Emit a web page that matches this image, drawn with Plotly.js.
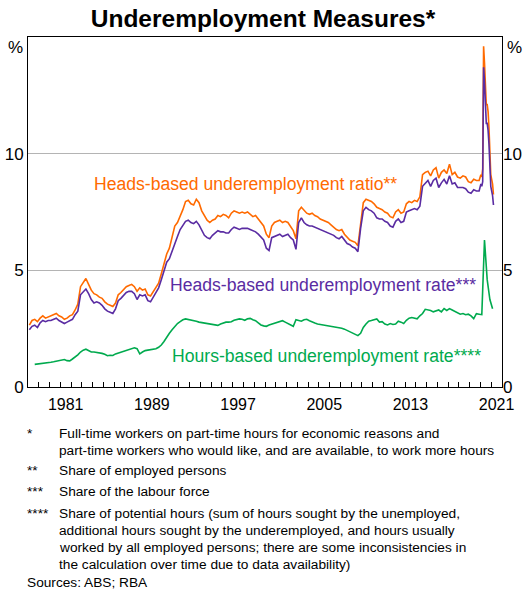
<!DOCTYPE html>
<html>
<head>
<meta charset="utf-8">
<script src="https://cdn.plot.ly/plotly-3.0.1.min.js"></script>
<style>
html,body{margin:0;padding:0;background:#fff;}
#chart{width:526px;height:592px;}
</style>
</head>
<body>
<div id="chart"></div>
<script>
// ---------------- DATA ----------------
// Quarterly heads-based series, 1978 Q1 .. 2019 Q4
const headsStartYear = 1978;
const headsRatioQ = [
  2.65, 2.85, 2.90, 2.80,   // 1978
  2.95, 3.05, 2.95, 3.00,   // 1979
  3.05, 3.10, 3.15, 3.05,   // 1980
  3.00, 2.90, 2.95, 3.05,   // 1981
  3.10, 3.30, 3.55, 4.30,   // 1982
  4.45, 4.65, 4.40, 4.15,   // 1983
  4.00, 3.95, 3.85, 3.80,   // 1984
  3.65, 3.55, 3.50, 3.45,   // 1985
  3.60, 3.95, 4.05, 4.20,   // 1986
  4.30, 4.35, 4.40, 4.30,   // 1987
  4.10, 4.25, 4.15, 4.20,   // 1988
  3.95, 3.90, 4.10, 4.25,   // 1989
  4.45, 4.85, 5.30, 5.70,   // 1990
  5.95, 6.45, 6.90, 7.05,   // 1991
  7.30, 7.60, 7.95, 8.00,   // 1992
  7.85, 7.80, 8.05, 7.90,   // 1993
  7.55, 7.35, 7.15, 7.05,   // 1994
  7.15, 7.20, 7.35, 7.30,   // 1995
  7.40, 7.35, 7.25, 7.45,   // 1996
  7.55, 7.50, 7.45, 7.50,   // 1997
  7.45, 7.50, 7.40, 7.30,   // 1998
  7.35, 7.20, 7.05, 6.90,   // 1999
  6.55, 6.40, 6.90, 7.05,   // 2000
  7.10, 7.15, 7.05, 7.10,   // 2001
  7.05, 6.90, 6.70, 6.35,   // 2002
  7.55, 7.70, 7.55, 7.45,   // 2003
  7.40, 7.45, 7.35, 7.30,   // 2004
  7.20, 7.15, 7.10, 7.05,   // 2005
  6.95, 6.85, 6.75, 6.70,   // 2006
  6.75, 6.55, 6.40, 6.30,   // 2007
  6.25, 6.20, 6.05, 7.10,   // 2008
  7.90, 8.05, 8.00, 7.95,   // 2009
  7.85, 7.70, 7.65, 7.60,   // 2010
  7.50, 7.45, 7.30, 7.25,   // 2011
  7.50, 7.60, 7.45, 7.50,   // 2012
  7.85, 7.95, 7.90, 8.00,   // 2013
  7.95, 8.15, 9.10, 9.20,   // 2014
  9.25, 9.05, 9.30, 9.40,   // 2015
  8.95, 9.20, 9.30, 9.15,   // 2016
  9.55, 9.10, 9.20, 9.00,   // 2017
  8.95, 9.05, 9.00, 8.80,   // 2018
  8.75, 8.90, 8.85, 8.85    // 2019
];
const headsRateQ = [
  2.45, 2.60, 2.65, 2.55,   // 1978
  2.75, 2.85, 2.80, 2.85,   // 1979
  2.85, 2.90, 2.95, 2.85,   // 1980
  2.80, 2.72, 2.78, 2.85,   // 1981
  2.90, 3.10, 3.25, 3.95,   // 1982
  4.10, 4.20, 4.00, 3.75,   // 1983
  3.60, 3.65, 3.60, 3.50,   // 1984
  3.35, 3.25, 3.20, 3.15,   // 1985
  3.35, 3.70, 3.80, 3.95,   // 1986
  4.05, 4.10, 4.10, 4.00,   // 1987
  3.75, 3.95, 3.90, 3.95,   // 1988
  3.70, 3.65, 3.85, 4.00,   // 1989
  4.25, 4.60, 5.00, 5.35,   // 1990
  5.50, 5.85, 6.20, 6.45,   // 1991
  6.75, 6.95, 7.10, 7.15,   // 1992
  7.05, 7.00, 7.10, 6.95,   // 1993
  6.70, 6.50, 6.40, 6.35,   // 1994
  6.50, 6.60, 6.70, 6.65,   // 1995
  6.65, 6.60, 6.60, 6.75,   // 1996
  6.85, 6.80, 6.75, 6.80,   // 1997
  6.80, 6.80, 6.75, 6.70,   // 1998
  6.65, 6.55, 6.40, 6.30,   // 1999
  5.95, 5.85, 6.40, 6.45,   // 2000
  6.50, 6.55, 6.45, 6.50,   // 2001
  6.55, 6.40, 6.30, 5.90,   // 2002
  7.05, 7.25, 7.05, 6.95,   // 2003
  6.90, 6.90, 6.85, 6.80,   // 2004
  6.75, 6.70, 6.65, 6.60,   // 2005
  6.55, 6.50, 6.40, 6.35,   // 2006
  6.45, 6.30, 6.15, 6.10,   // 2007
  6.00, 5.95, 5.80, 6.80,   // 2008
  7.55, 7.70, 7.60, 7.55,   // 2009
  7.45, 7.25, 7.20, 7.20,   // 2010
  7.10, 7.05, 6.90, 6.85,   // 2011
  7.10, 7.20, 7.05, 7.10,   // 2012
  7.50, 7.55, 7.60, 7.65,   // 2013
  7.60, 7.75, 8.60, 8.75,   // 2014
  8.85, 8.60, 8.85, 8.95,   // 2015
  8.55, 8.75, 8.90, 8.70,   // 2016
  9.05, 8.70, 8.75, 8.55,   // 2017
  8.55, 8.55, 8.50, 8.35,   // 2018
  8.30, 8.45, 8.40, 8.40    // 2019
];
// Monthly heads-based series, Jan 2020 .. Mar 2021
const monthlyStartYear = 2020;
const headsRatioM = [9.10, 9.00, 9.35, 14.60, 13.90, 12.40, 12.10, 12.10, 11.80, 11.10, 10.00, 9.10, 8.90, 8.70, 8.25];
const headsRateM  = [8.70, 8.60, 8.80, 13.70, 13.10, 11.70, 11.30, 11.30, 11.00, 10.40,  9.40, 8.60, 8.40, 8.20, 7.80];
// Quarterly hours-based series, 1978 Q3 .. 2021 Q1
const hoursStartYear = 1978.5;
const hoursRateQ = [
              0.97, 0.98,   // 1978
  1.00, 1.01, 1.03, 1.05,   // 1979
  1.06, 1.08, 1.10, 1.12,   // 1980
  1.15, 1.18, 1.13, 1.12,   // 1981
  1.20, 1.28, 1.38, 1.50,   // 1982
  1.58, 1.62, 1.55, 1.50,   // 1983
  1.50, 1.49, 1.46, 1.44,   // 1984
  1.40, 1.34, 1.36, 1.35,   // 1985
  1.42, 1.46, 1.50, 1.55,   // 1986
  1.58, 1.62, 1.66, 1.68,   // 1987
  1.64, 1.42, 1.50, 1.56,   // 1988
  1.58, 1.60, 1.62, 1.64,   // 1989
  1.70, 1.80, 1.95, 2.15,   // 1990
  2.30, 2.45, 2.60, 2.72,   // 1991
  2.80, 2.88, 2.92, 2.90,   // 1992
  2.88, 2.86, 2.82, 2.78,   // 1993
  2.76, 2.73, 2.72, 2.70,   // 1994
  2.68, 2.66, 2.64, 2.70,   // 1995
  2.74, 2.78, 2.78, 2.80,   // 1996
  2.86, 2.88, 2.92, 2.90,   // 1997
  2.86, 2.92, 2.94, 2.88,   // 1998
  2.84, 2.75, 2.66, 2.62,   // 1999
  2.60, 2.66, 2.70, 2.74,   // 2000
  2.76, 2.82, 2.84, 2.78,   // 2001
  2.72, 2.66, 2.60, 2.88,   // 2002
  2.86, 2.82, 2.88, 2.90,   // 2003
  2.84, 2.78, 2.74, 2.70,   // 2004
  2.68, 2.66, 2.65, 2.63,   // 2005
  2.62, 2.60, 2.58, 2.55,   // 2006
  2.52, 2.48, 2.42, 2.36,   // 2007
  2.30, 2.25, 2.20, 2.30,   // 2008
  2.55, 2.70, 2.82, 2.85,   // 2009
  2.88, 2.92, 2.78, 2.80,   // 2010
  2.70, 2.66, 2.72, 2.68,   // 2011
  2.70, 2.82, 2.78, 2.72,   // 2012
  2.86, 2.95, 2.98, 2.94,   // 2013
  2.92, 3.05, 3.15, 3.33,   // 2014
  3.32, 3.28, 3.22, 3.26,   // 2015
  3.30, 3.22, 3.36, 3.28,   // 2016
  3.36, 3.30, 3.24, 3.20,   // 2017
  3.12, 3.15, 3.10, 3.12,   // 2018
  3.05, 2.93, 3.14, 3.12,   // 2019
  3.10, 6.30, 4.60, 3.75,   // 2020
  3.35                      // 2021
];
const labelYears = ['1981', '1989', '1997', '2005', '2013', '2021'];
const yTickVals = [0, 5, 10];
const yTickText = ['0', '5', '10'];

const seriesNames = {
  ratio: 'Heads-based underemployment ratio**',
  rate: 'Heads-based underemployment rate***',
  hours: 'Hours-based underemployment rate****'
};
const footnotes = [
  {mark: '*', lines: ['Full-time workers on part-time hours for economic reasons and',
                      'part-time workers who would like, and are available, to work more hours']},
  {mark: '**', lines: ['Share of employed persons']},
  {mark: '***', lines: ['Share of the labour force']},
  {mark: '****', lines: ['Share of potential hours (sum of hours sought by the unemployed,',
                         'additional hours sought by the underemployed, and hours usually',
                         'worked by all employed persons; there are some inconsistencies in',
                         'the calculation over time due to data availability)']}
];
const sourceText = 'Sources: ABS; RBA';

// ---------------- BUILD ----------------
const FONT = 'Liberation Sans, Arial, Helvetica, sans-serif';
const ORANGE = '#FF6A00';
const PURPLE = '#5A2CA2';
const GREEN = '#00AA4E';

function quarterDates(start, n) { const a = []; for (let i = 0; i < n; i++) a.push(start + i * 0.25 + 0.125); return a; }
function monthDates(start, n) { const a = []; for (let i = 0; i < n; i++) a.push(start + (i + 0.5) / 12); return a; }

const xHeads = quarterDates(headsStartYear, headsRatioQ.length).concat(monthDates(monthlyStartYear, headsRatioM.length));
const yRatio = headsRatioQ.concat(headsRatioM);
const yRate = headsRateQ.concat(headsRateM);
const xHours = quarterDates(hoursStartYear, hoursRateQ.length);

const traces = [
  {x: xHours, y: hoursRateQ, type: 'scatter', mode: 'lines', line: {color: GREEN, width: 1.6}, name: seriesNames.hours, hoverinfo: 'skip'},
  {x: xHeads, y: yRatio, type: 'scatter', mode: 'lines', line: {color: ORANGE, width: 1.6}, name: seriesNames.ratio, hoverinfo: 'skip'},
  {x: xHeads, y: yRate, type: 'scatter', mode: 'lines', line: {color: PURPLE, width: 1.6}, name: seriesNames.rate, hoverinfo: 'skip'},
  {x: [], y: [], xaxis: 'x2', yaxis: 'y2', type: 'scatter', mode: 'lines', showlegend: false, hoverinfo: 'skip'}
];

// page-pixel helpers for text placed outside the plot
const PL = 28, PR = 502, PT = 37, PB = 387;
const px = v => (v - PL) / (PR - PL);
const py = v => (PB - v) / (PB - PT);

const SERIES_FS = 17.6;
const NOTE_FS = 13.7;
const annotations = [
  {text: '%', xref: 'paper', yref: 'paper', x: px(25), y: py(47), xanchor: 'right', yanchor: 'middle', showarrow: false, font: {size: 17, family: FONT, color: '#000'}},
  {text: '%', xref: 'paper', yref: 'paper', x: px(505), y: py(47), xanchor: 'left', yanchor: 'middle', showarrow: false, font: {size: 17, family: FONT, color: '#000'}},
  {text: seriesNames.ratio, xref: 'x', yref: 'y', x: 1983.95, y: 8.68, xanchor: 'left', yanchor: 'middle', showarrow: false, font: {size: SERIES_FS, family: FONT, color: ORANGE}},
  {text: seriesNames.rate, xref: 'x', yref: 'y', x: 1990.95, y: 4.39, xanchor: 'left', yanchor: 'middle', showarrow: false, font: {size: SERIES_FS, family: FONT, color: PURPLE}},
  {text: seriesNames.hours, xref: 'x', yref: 'y', x: 1991.15, y: 1.31, xanchor: 'left', yanchor: 'middle', showarrow: false, font: {size: SERIES_FS, family: FONT, color: GREEN}}
];

const noteStarts = [433, 470, 491, 513];
footnotes.forEach((fn, i) => {
  annotations.push({text: fn.mark, xref: 'paper', yref: 'paper', x: px(25), y: py(noteStarts[i]), xanchor: 'left', yanchor: 'middle', showarrow: false, font: {size: NOTE_FS, family: FONT, color: '#000'}});
  fn.lines.forEach((ln, j) => {
    annotations.push({text: ln, xref: 'paper', yref: 'paper', x: px(57), y: py(noteStarts[i] + j * 17), xanchor: 'left', yanchor: 'middle', showarrow: false, font: {size: NOTE_FS, family: FONT, color: '#000'}});
  });
});
annotations.push({text: sourceText, xref: 'paper', yref: 'paper', x: px(25), y: py(582), xanchor: 'left', yanchor: 'middle', showarrow: false, font: {size: NOTE_FS, family: FONT, color: '#000'}});

const layout = {
  width: 526, height: 592,
  margin: {l: PL, r: 526 - PR, t: PT, b: 592 - PB, pad: 0},
  paper_bgcolor: '#fff', plot_bgcolor: '#fff',
  showlegend: false,
  font: {family: FONT, color: '#000'},
  title: {text: '<b>Underemployment Measures*</b>', font: {size: 24.5, family: FONT, color: '#000'}, xref: 'container', x: 0.5, xanchor: 'center', yref: 'container', y: 1 - 18 / 592, yanchor: 'middle'},
  xaxis: {range: [1978, 2022], tickmode: 'linear', tick0: 1978, dtick: 1, ticks: 'inside', ticklen: 5, tickwidth: 1, tickcolor: '#000',
          showticklabels: false, showgrid: false, zeroline: false, showline: true, mirror: true, linecolor: '#000', linewidth: 1, fixedrange: true},
  xaxis2: {overlaying: 'x', anchor: 'y', side: 'bottom', range: [1978, 2022], tickmode: 'array',
           tickvals: labelYears.map(y => Number(y) + 0.5), ticktext: labelYears, ticks: '', ticklabelstandoff: 6, showgrid: false, zeroline: false, showline: false,
           tickfont: {size: 16, family: FONT, color: '#000'}, fixedrange: true},
  yaxis: {range: [0, 15], tickmode: 'array', tickvals: yTickVals, ticktext: yTickText, ticks: '', showgrid: true, gridcolor: '#B4B4B4', gridwidth: 1,
          zeroline: false, showline: true, mirror: true, linecolor: '#000', linewidth: 1, tickfont: {size: 17, family: FONT, color: '#000'}, fixedrange: true},
  yaxis2: {overlaying: 'y', anchor: 'x', side: 'right', range: [0, 15], tickmode: 'array', tickvals: yTickVals, ticktext: yTickText, ticks: '',
           showgrid: false, zeroline: false, showline: false, tickfont: {size: 17, family: FONT, color: '#000'}, fixedrange: true},
  annotations: annotations
};

Plotly.newPlot('chart', traces, layout, {staticPlot: true, displayModeBar: false});
</script>
</body>
</html>
